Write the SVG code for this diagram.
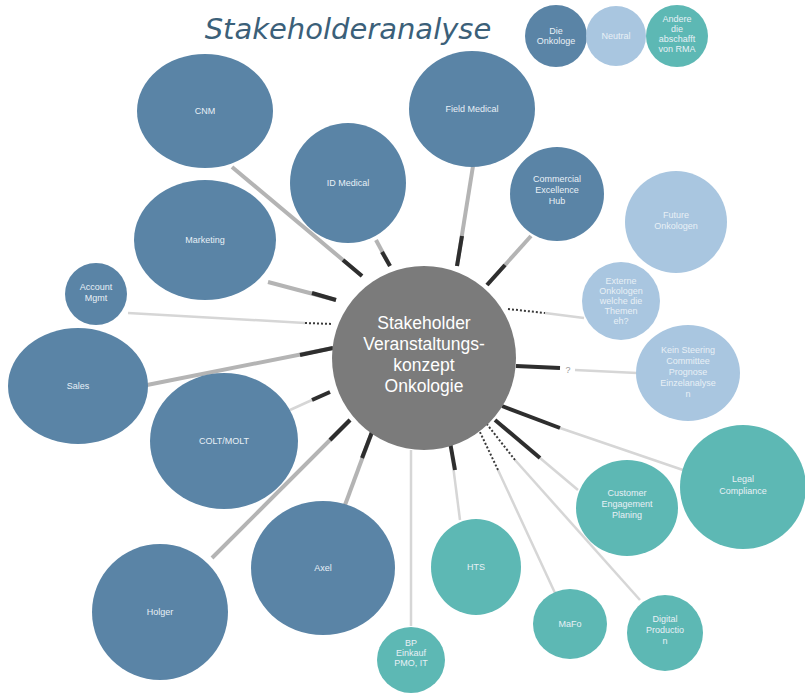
<svg xmlns="http://www.w3.org/2000/svg" width="805" height="695" viewBox="0 0 805 695">
<style>
.dk{fill:#5a84a6}.lb{fill:#a9c6e0}.tl{fill:#5db8b4}.ctr{fill:#7b7b7b}
.t{font-family:"Liberation Sans",Arial,sans-serif;font-size:9px;fill:#e8f0f6;text-anchor:middle}
.ct{font-family:"Liberation Sans",Arial,sans-serif;font-size:17.5px;fill:#ffffff;text-anchor:middle}
.ln{stroke:#b4b4b4;stroke-width:4;fill:none;stroke-linecap:butt}
.lt{stroke:#d6d6d6;stroke-width:2.5;fill:none}
.d{stroke:#2e2e2e;stroke-width:4;fill:none}
.dt{stroke:#3a3a3a;stroke-width:2;stroke-dasharray:2 2;fill:none}
</style>
<rect width="805" height="695" fill="#ffffff"/>
<text x="348" y="39" font-family="'DejaVu Sans',sans-serif" font-style="italic" font-size="29" fill="#3b6079" text-anchor="middle">Stakeholderanalyse</text>
<g id="connectors">
<line class="ln" x1="232" y1="167" x2="362" y2="276"/><line class="d" x1="343" y1="260" x2="362" y2="276"/>
<line class="ln" x1="376" y1="240" x2="390" y2="266"/><line class="d" x1="382" y1="252" x2="390" y2="266"/>
<line class="ln" x1="473" y1="166" x2="457" y2="266"/><line class="d" x1="462" y1="236" x2="457" y2="266"/>
<line class="ln" x1="531" y1="236" x2="487" y2="285"/><line class="d" x1="505" y1="265" x2="487" y2="285"/>
<line class="ln" x1="268" y1="282" x2="336" y2="300"/><line class="d" x1="312" y1="293" x2="336" y2="300"/>
<line class="lt" x1="128" y1="313" x2="305" y2="323"/><line class="dt" x1="305" y1="323" x2="333" y2="324"/>
<line class="lt" x1="545" y1="313" x2="584" y2="318"/><line class="dt" x1="508" y1="309" x2="545" y2="313"/>
<line class="ln" x1="147" y1="385" x2="333" y2="348"/><line class="d" x1="300" y1="355" x2="333" y2="348"/>
<line class="lt" x1="575" y1="370" x2="637" y2="373"/><line class="d" x1="516" y1="366" x2="560" y2="368"/>
<text x="568" y="373" font-family="'Liberation Sans',sans-serif" font-size="9" fill="#999" text-anchor="middle">?</text>
<line class="lt" x1="290" y1="410" x2="312" y2="400"/><line class="d" x1="312" y1="400" x2="330" y2="392"/>
<line class="ln" x1="212" y1="558" x2="350" y2="420"/><line class="d" x1="330" y1="440" x2="350" y2="420"/>
<line class="ln" x1="345" y1="505" x2="372" y2="432"/><line class="d" x1="362" y1="458" x2="372" y2="432"/>
<line class="lt" x1="411" y1="626" x2="411" y2="450"/>
<line class="lt" x1="460" y1="520" x2="450" y2="442"/><line class="d" x1="455" y1="470" x2="450" y2="442"/>
<line class="lt" x1="555" y1="593" x2="498" y2="470"/><line class="dt" x1="498" y1="470" x2="478" y2="428"/>
<line class="lt" x1="640" y1="600" x2="515" y2="460"/><line class="dt" x1="515" y1="460" x2="486" y2="423"/>
<line class="lt" x1="578" y1="490" x2="540" y2="458"/><line class="d" x1="540" y1="458" x2="495" y2="420"/>
<line class="lt" x1="683" y1="470" x2="560" y2="428"/><line class="d" x1="560" y1="428" x2="502" y2="406"/>
</g>
<g id="legend-1"><circle class="dk" cx="556" cy="36" r="31"/><text class="t" x="556" y="34">Die</text><text class="t" x="556" y="44">Onkologe</text></g>
<g id="legend-2"><circle class="lb" cx="616" cy="36" r="30"/><text class="t" x="616" y="39">Neutral</text></g>
<g id="legend-3"><circle class="tl" cx="677" cy="36" r="31"/><text class="t" x="677" y="22">Andere</text><text class="t" x="677" y="32">die</text><text class="t" x="677" y="42">abschafft</text><text class="t" x="677" y="52">von RMA</text></g>
<g id="cnm"><ellipse class="dk" cx="205" cy="111" rx="68" ry="57"/><text class="t" x="205" y="114">CNM</text></g>
<g id="id-medical"><ellipse class="dk" cx="348" cy="183" rx="58" ry="60"/><text class="t" x="348" y="186">ID Medical</text></g>
<g id="field-medical"><ellipse class="dk" cx="472" cy="109" rx="63" ry="58"/><text class="t" x="472" y="112">Field Medical</text></g>
<g id="ceh"><circle class="dk" cx="557" cy="194" r="47"/><text class="t" x="557" y="182">Commercial</text><text class="t" x="557" y="193">Excellence</text><text class="t" x="557" y="204">Hub</text></g>
<g id="marketing"><ellipse class="dk" cx="205" cy="240" rx="71" ry="60"/><text class="t" x="205" y="243">Marketing</text></g>
<g id="account"><circle class="dk" cx="96" cy="294" r="31"/><text class="t" x="96" y="290">Account</text><text class="t" x="96" y="301">Mgmt</text></g>
<g id="sales"><ellipse class="dk" cx="78" cy="386" rx="70" ry="58"/><text class="t" x="78" y="389">Sales</text></g>
<g id="colt"><ellipse class="dk" cx="224" cy="441" rx="74" ry="68"/><text class="t" x="224" y="444">COLT/MOLT</text></g>
<g id="axel"><ellipse class="dk" cx="323" cy="568" rx="72" ry="67"/><text class="t" x="323" y="571">Axel</text></g>
<g id="holger"><circle class="dk" cx="160" cy="612" r="68"/><text class="t" x="160" y="615">Holger</text></g>
<g id="future"><circle class="lb" cx="676" cy="222" r="51"/><text class="t" x="676" y="218">Future</text><text class="t" x="676" y="229">Onkologen</text></g>
<g id="extern"><circle class="lb" cx="621" cy="301" r="39"/><text class="t" x="621" y="284">Externe</text><text class="t" x="621" y="294">Onkologen</text><text class="t" x="621" y="304">welche die</text><text class="t" x="621" y="314">Themen</text><text class="t" x="621" y="324">eh?</text></g>
<g id="steering"><ellipse class="lb" cx="688" cy="373" rx="52" ry="48"/><text class="t" x="688" y="353">Kein Steering</text><text class="t" x="688" y="364">Committee</text><text class="t" x="688" y="375">Prognose</text><text class="t" x="688" y="386">Einzelanalyse</text><text class="t" x="688" y="397">n</text></g>
<g id="center"><circle class="ctr" cx="424" cy="358" r="92"/><text class="ct" x="424" y="329">Stakeholder</text><text class="ct" x="424" y="350">Veranstaltungs-</text><text class="ct" x="424" y="371">konzept</text><text class="ct" x="424" y="392">Onkologie</text></g>
<g id="legal"><ellipse class="tl" cx="743" cy="487" rx="63" ry="62"/><text class="t" x="743" y="482">Legal</text><text class="t" x="743" y="494">Compliance</text></g>
<g id="cep"><ellipse class="tl" cx="627" cy="508" rx="51" ry="48"/><text class="t" x="627" y="496">Customer</text><text class="t" x="627" y="507">Engagement</text><text class="t" x="627" y="518">Planing</text></g>
<g id="hts"><ellipse class="tl" cx="476" cy="567" rx="45" ry="48"/><text class="t" x="476" y="570">HTS</text></g>
<g id="mafo"><ellipse class="tl" cx="570" cy="624" rx="37" ry="35"/><text class="t" x="570" y="627">MaFo</text></g>
<g id="digital"><circle class="tl" cx="665" cy="633" r="38"/><text class="t" x="665" y="622">Digital</text><text class="t" x="665" y="633">Productio</text><text class="t" x="665" y="644">n</text></g>
<g id="bp"><ellipse class="tl" cx="411" cy="660" rx="34" ry="33"/><text class="t" x="411" y="646">BP</text><text class="t" x="411" y="656">Einkauf</text><text class="t" x="411" y="666">PMO, IT</text></g>
</svg>
